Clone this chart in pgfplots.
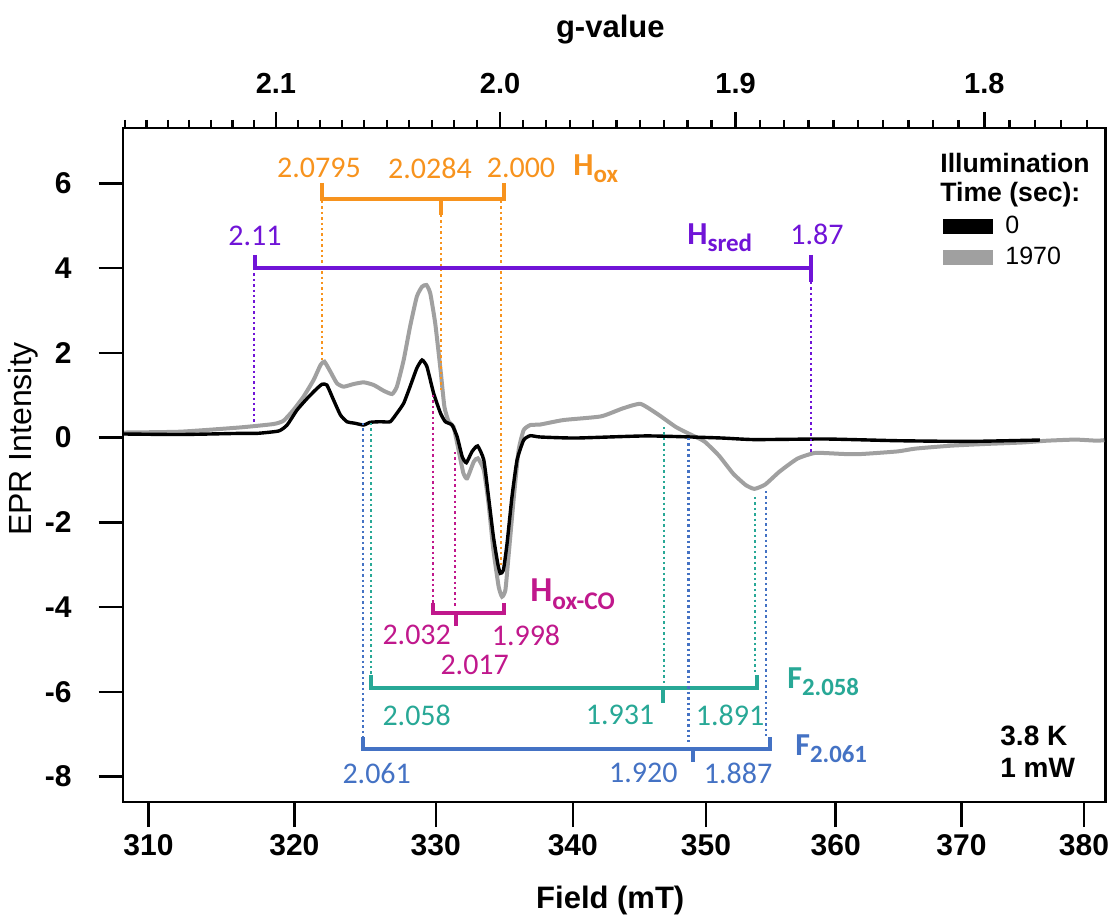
\documentclass[border=0pt]{standalone}
\usepackage{pgfplots}
\pgfplotsset{compat=1.18}
\usepackage{pgfplotstable}
\usepackage{fontspec}
\setmainfont{Liberation Sans}
\newfontfamily\calibri{Carlito}

\definecolor{cOr}{RGB}{247,147,30}
\definecolor{cPu}{RGB}{112,20,215}
\definecolor{cMa}{RGB}{192,24,140}
\definecolor{cTe}{RGB}{40,168,150}
\definecolor{cBl}{RGB}{68,114,196}
\definecolor{cGr}{RGB}{160,160,160}

\pgfplotstableread{
x y
308.36 0.085
312.15 0.073
316.25 0.10
317.40 0.10
318.90 0.156
319.48 0.297
320.18 0.652
320.88 0.928
321.46 1.124
321.92 1.258
322.28 1.242
322.74 0.888
323.21 0.534
323.68 0.375
324.27 0.338
324.85 0.297
325.33 0.361
326.04 0.375
326.75 0.375
327.22 0.574
327.69 0.810
328.17 1.202
328.65 1.636
329.01 1.832
329.37 1.674
329.84 1.046
330.32 0.574
330.68 0.375
331.16 0.297
331.53 0.021
331.89 -0.451
332.20 -0.593
332.61 -0.333
333.02 -0.198
333.45 -0.529
333.81 -1.395
334.18 -2.339
334.47 -2.967
334.66 -3.204
334.91 -3.126
335.15 -2.495
335.52 -1.395
335.88 -0.529
336.37 -0.057
336.86 0.045
337.59 0.014
340.23 -0.01
345.55 0.04
350.97 -0.007
353.71 -0.047
359.25 -0.033
364.87 -0.073
370.60 -0.09
376.41 -0.057
}\blackdata

\pgfplotstableread{
x y
308.36 0.12
312.15 0.14
316.25 0.24
318.55 0.321
319.24 0.399
319.94 0.652
320.64 0.966
321.34 1.360
321.81 1.714
322.09 1.792
322.51 1.556
322.98 1.282
323.44 1.202
324.15 1.265
324.85 1.305
325.56 1.242
326.27 1.107
326.87 1.029
327.22 1.202
327.69 1.832
328.17 2.618
328.65 3.326
329.01 3.562
329.32 3.602
329.60 3.407
329.96 2.698
330.32 1.596
330.61 0.729
330.92 0.375
331.28 0.257
331.64 -0.293
332.00 -0.843
332.25 -0.961
332.73 -0.569
333.04 -0.489
333.45 -0.765
333.81 -1.551
334.18 -2.653
334.54 -3.520
334.79 -3.756
335.03 -3.598
335.27 -2.812
335.63 -1.395
336.00 -0.293
336.37 0.179
336.86 0.297
337.59 0.309
339.31 0.415
342.08 0.50
343.68 0.685
345.02 0.796
346.37 0.543
347.71 0.248
348.80 0.078
349.88 -0.09
350.97 -0.427
352.07 -0.85
353.03 -1.12
353.71 -1.21
354.54 -1.107
355.64 -0.807
357.02 -0.496
358.42 -0.361
360.66 -0.387
362.06 -0.387
364.88 -0.326
366.31 -0.26
369.16 -0.191
372.04 -0.149
374.94 -0.116
376.98 -0.073
379.34 -0.047
381.11 -0.073
381.70 -0.06
}\graydata

\begin{document}
\begin{tikzpicture}
\path[use as bounding box] (0,0) rectangle (557pt,461pt);
\begin{axis}[
  at={(61.35pt,60pt)}, anchor=south west,
  width=491.15pt, height=337pt, scale only axis,
  xmode=log, xmin=308.277, xmax=381.77, ymin=-8.602, ymax=7.309,
  xtick={310,320,330,340,350,360,370,380},
  xticklabels={310,320,330,340,350,360,370,380},
  ytick={-8,-6,-4,-2,0,2,4,6},
  yticklabels={-8,-6,-4,-2,0,2,4,6},
  xminorticks=false, yminorticks=false,
  xtick pos=left, ytick pos=left,
  tick align=outside, major tick length=12.5pt,
  tick style={line width=1.2pt, black},
  axis line style={line width=1.2pt},
  ticklabel style={font=\fontsize{15}{15}\selectfont\bfseries},
  yticklabel style={xshift=-10pt},
  xlabel={Field (mT)}, ylabel={EPR Intensity},
  xlabel style={font=\fontsize{15.5}{15.5}\selectfont\bfseries, at={(axis description cs:0.496,-0.1454)}, anchor=center},
  ylabel style={font=\fontsize{16}{16}\selectfont, at={(axis description cs:-0.1015,0.5386)}, anchor=center},
]
\addplot[cGr, line width=2pt, smooth, tension=0.3] table[x=x,y=y] {\graydata};
\addplot[black, line width=1.7pt, smooth, tension=0.3] table[x=x,y=y] {\blackdata};
\end{axis}
\begin{axis}[
  at={(61.35pt,60pt)}, anchor=south west,
  width=491.15pt, height=337pt, scale only axis,
  xmode=log, xmin=308.277, xmax=381.77, ymin=0, ymax=1,
  axis x line*=top, axis y line=none, axis line style={-, line width=1.2pt},
  xtick={318.714,334.65,352.263,371.833},
  xticklabels={2.1,2.0,1.9,1.8},
  minor xtick={308.433,309.861,311.302,312.757,314.225,315.708,317.204,320.239,321.779,323.333,324.903,326.488,328.088,329.704,331.337,332.985,336.332,338.030,339.746,341.480,343.231,345.000,346.788,348.594,350.419,354.127,356.011,357.914,359.839,361.784,363.750,365.738,367.747,369.779,373.911,376.011,378.136,380.284},
  tick align=outside, major tick length=8pt, minor tick length=4pt,
  tick style={line width=1.2pt, black},
  ticklabel style={font=\fontsize{14.5}{14.5}\selectfont\bfseries},
  xticklabel style={yshift=5.5pt},
  xlabel={g-value},
  xlabel style={font=\fontsize{15.5}{15.5}\selectfont\bfseries, at={(axis description cs:0.496,1.1454)}, anchor=center},
]
\end{axis}
\begin{scope}[x=0.5pt,y=-0.5pt,yshift=461pt,
  dots/.style={line width=1.1pt, dash pattern=on 1.2pt off 1.5pt},
  brk/.style={line width=2pt},
  num/.style={inner sep=0pt, font=\calibri\fontsize{15}{15}\selectfont}]
% Hox (orange)
\draw[brk,cOr] (322,183)--(322,199)--(504,199)--(504,183);
\draw[brk,cOr] (441,199)--(441,215);
\draw[dots,cOr] (322,201)--(322,360);
\draw[dots,cOr] (441,215)--(441,390);
\draw[dots,cOr] (501,201)--(501,567);
\node[num,text=cOr] at (319,168) {2.0795};
\node[num,text=cOr] at (430,168) {2.0284};
\node[num,text=cOr] at (521,168) {2.000};
\node[anchor=base west,inner sep=0pt,text=cOr] at (573,176) {\calibri\bfseries\fontsize{16}{16}\selectfont H\raisebox{-3.5pt}{\fontsize{12.5}{12.5}\selectfont ox}};
% Hsred (purple)
\draw[brk,cPu] (255,255)--(255,268)--(811,268);
\draw[brk,cPu] (811,255)--(811,282);
\draw[dots,cPu] (254,268)--(254,422);
\draw[dots,cPu] (811,282)--(811,452);
\node[num,text=cPu] at (255,236) {2.11};
\node[num,text=cPu] at (817,234) {1.87};
\node[anchor=base west,inner sep=0pt,text=cPu] at (687,245) {\calibri\bfseries\fontsize{16}{16}\selectfont H\raisebox{-3.5pt}{\fontsize{12.5}{12.5}\selectfont sred}};
% Hox-CO (magenta)
\draw[brk,cMa] (433,603)--(433,613)--(504,613)--(504,603);
\draw[brk,cMa] (456,613)--(456,626);
\draw[dots,cMa] (433,395)--(433,603);
\draw[dots,cMa] (455,452)--(455,606);
\node[num,text=cMa] at (416.7,635) {2.032};
\node[num,text=cMa] at (526,635) {1.998};
\node[num,text=cMa] at (474.7,665) {2.017};
\node[anchor=base west,inner sep=0pt,text=cMa] at (530,601.7) {\calibri\bfseries\fontsize{17.5}{17.5}\selectfont H\raisebox{-3.8pt}{\fontsize{12.7}{12.7}\selectfont ox-CO}};
% F2.058 (teal)
\draw[brk,cTe] (371,675)--(371,688)--(757,688)--(757,675);
\draw[brk,cTe] (663,688)--(663,703);
\draw[dots,cTe] (371,423)--(371,675);
\draw[dots,cTe] (664,427)--(664,686);
\draw[dots,cTe] (755,497)--(755,675);
\node[num,text=cTe] at (416.7,715) {2.058};
\node[num,text=cTe] at (620,715) {1.931};
\node[num,text=cTe] at (730,715) {1.891};
\node[anchor=base west,inner sep=0pt,text=cTe] at (787,688) {\calibri\bfseries\fontsize{16}{16}\selectfont F\raisebox{-3.5pt}{\fontsize{12.4}{12.4}\selectfont 2.058}};
% F2.061 (blue)
\draw[brk,cBl] (363,737)--(363,749)--(770,749)--(770,737);
\draw[brk,cBl] (693,749)--(693,762);
\draw[dots,cBl] (363,423)--(363,737);
\draw[dots,cBl] (688.5,438)--(688.5,742);
\draw[dots,cBl] (766,491)--(766,737);
\node[num,text=cBl] at (376.7,773) {2.061};
\node[num,text=cBl] at (643.3,773) {1.920};
\node[num,text=cBl] at (738,773) {1.887};
\node[anchor=base west,inner sep=0pt,text=cBl] at (795,755) {\calibri\bfseries\fontsize{16}{16}\selectfont F\raisebox{-3.5pt}{\fontsize{12.4}{12.4}\selectfont 2.061}};
% legend
\node[anchor=base west,inner sep=0pt,font=\fontsize{13.3}{13.3}\selectfont\bfseries] at (940,173) {Illumination};
\node[anchor=base west,inner sep=0pt,font=\fontsize{13.3}{13.3}\selectfont\bfseries] at (940,202) {Time (sec):};
\fill[black] (943,219) rectangle (993,234);
\fill[cGr] (943,250) rectangle (993,265);
\node[anchor=base west,inner sep=0pt,font=\fontsize{12.5}{12.5}\selectfont] at (1005,234) {0};
\node[anchor=base west,inner sep=0pt,font=\fontsize{12.5}{12.5}\selectfont] at (1005,265) {1970};
% conditions
\node[anchor=base west,inner sep=0pt,font=\fontsize{14}{14}\selectfont\bfseries] at (1000,745) {3.8 K};
\node[anchor=base west,inner sep=0pt,font=\fontsize{14}{14}\selectfont\bfseries] at (1000,777) {1 mW};
\end{scope}
\end{tikzpicture}
\end{document}
